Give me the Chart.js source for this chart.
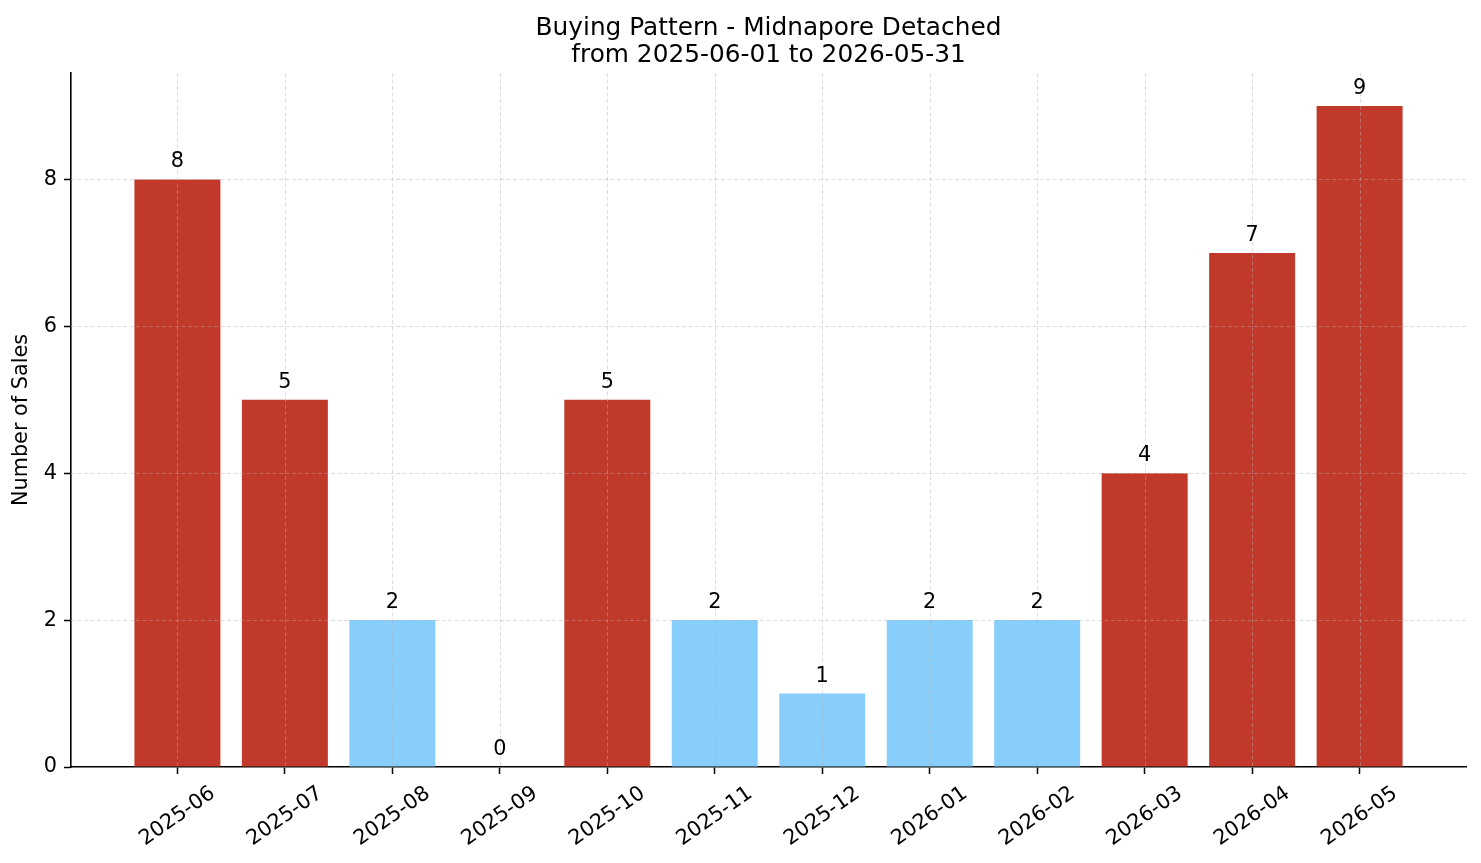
<!DOCTYPE html>
<html>
<head>
<meta charset="utf-8">
<script src="https://cdn.jsdelivr.net/npm/chart.js@4.4.1/dist/chart.umd.min.js"></script>
<style>
   html, body { margin: 0; padding: 0; background: #fff; }
   #wrap { width: 1481px; height: 863px; }
</style>
</head>
<body>
<div id="wrap"><canvas id="graphique"></canvas></div>
<script>
const mois = ['2025-06', '2025-07', '2025-08', '2025-09', '2025-10', '2025-11',
              '2025-12', '2026-01', '2026-02', '2026-03', '2026-04', '2026-05'];
const ventes = [8, 5, 2, 0, 5, 2, 1, 2, 2, 4, 7, 9];
const yTicks = [0, 2, 4, 6, 8];
const titre = ['Buying Pattern - Midnapore Detached', 'from 2025-06-01 to 2026-05-31'];

const FONT = 'DejaVu Sans';
const ROUGE = '#c0392b';
const BLEU = '#87cefa';
const GRILLE = 'rgba(176, 176, 176, 0.55)';

// grille pointillée dessinée par-dessus les barres (comme matplotlib)
const grillePlugin = {
   id: 'grille',
   afterDatasetsDraw(chart) {
      const c = chart.ctx;
      const a = chart.chartArea;
      c.save();
      c.strokeStyle = GRILLE;
      c.lineWidth = 0.8;
      c.setLineDash([4, 2.5]);
      mois.forEach((m, i) => {
         const x = Math.round(chart.scales.x.getPixelForValue(i)) + 0.5;
         c.beginPath(); c.moveTo(x, a.top); c.lineTo(x, a.bottom); c.stroke();
      });
      yTicks.forEach(v => {
         if (v === 0) return;
         const y = Math.round(chart.scales.y.getPixelForValue(v)) + 0.5;
         c.beginPath(); c.moveTo(a.left, y); c.lineTo(a.right, y); c.stroke();
      });
      c.restore();
   }
};

// titre, valeurs au-dessus des barres + étiquettes x tournées et centrées
const textePlugin = {
   id: 'texte',
   afterDraw(chart) {
      const c = chart.ctx;
      const a = chart.chartArea;
      const sx = chart.scales.x, sy = chart.scales.y;
      c.save();
      c.fillStyle = '#000';
      c.textAlign = 'center';
      c.textBaseline = 'alphabetic';

      c.font = `24.8px "${FONT}"`;
      c.fillText(titre[0], (a.left + a.right) / 2, 34.5);
      c.fillText(titre[1], (a.left + a.right) / 2, 62);

      c.font = `20.8px "${FONT}"`;
      ventes.forEach((v, i) => {
         c.fillText(String(v), sx.getPixelForValue(i), sy.getPixelForValue(v) - 12);
      });
      const angle = 35 * Math.PI / 180;
      const haut = a.bottom + 14.6;
      c.textBaseline = 'middle';
      mois.forEach((m, i) => {
         const w = c.measureText(m).width;
         const h = 24.2;
         const H = w * Math.sin(angle) + h * Math.cos(angle);
         c.save();
         c.translate(sx.getPixelForValue(i), haut + H / 2);
         c.rotate(-angle);
         c.fillText(m, 0, 0);
         c.restore();
      });
      c.restore();
   }
};

const myChart = new Chart(document.getElementById('graphique'), {
   type: 'bar',
   data: {
      datasets: [{
         data: mois.map((m, i) => ({ x: i, y: ventes[i] })),
         backgroundColor: ventes.map(v => v >= 4 ? ROUGE : BLEU),
         borderWidth: 0,
         categoryPercentage: 0.8,
         barPercentage: 1.0
      }]
   },
   options: {
      responsive: true,
      maintainAspectRatio: false,
      animation: false,
      layout: { padding: { left: 0, right: 15, top: 73, bottom: 0 } },
      plugins: {
         legend: { display: false },
         tooltip: { enabled: false },
         title: { display: false }
      },
      scales: {
         x: {
            type: 'linear',
            offset: false,
            min: -0.99,
            max: 11.99,
            afterBuildTicks: s => { s.ticks = mois.map((m, i) => ({ value: i })); },
            afterFit: s => { s.height = 96; },
            ticks: { display: false },
            grid: { offset: false, color: 'transparent', tickColor: '#000', tickLength: 7, tickWidth: 1.5 },
            border: { display: true, color: '#000', width: 1.6 }
         },
         y: {
            min: 0,
            max: 9.45,
            afterBuildTicks: s => { s.ticks = yTicks.map(v => ({ value: v })); },
            afterFit: s => { s.width = 71; },
            ticks: {
               color: '#000',
               padding: 7,
               font: { family: FONT, size: 20.8 }
            },
            grid: { color: 'transparent', tickColor: '#000', tickLength: 7, tickWidth: 1.5 },
            border: { display: true, color: '#000', width: 1.6 },
            title: {
               display: true,
               text: 'Number of Sales',
               color: '#000',
               font: { family: FONT, size: 20.8 },
               padding: { top: 9, bottom: 0 }
            }
         }
      }
   },
   plugins: [grillePlugin, textePlugin]
});
</script>
</body>
</html>
